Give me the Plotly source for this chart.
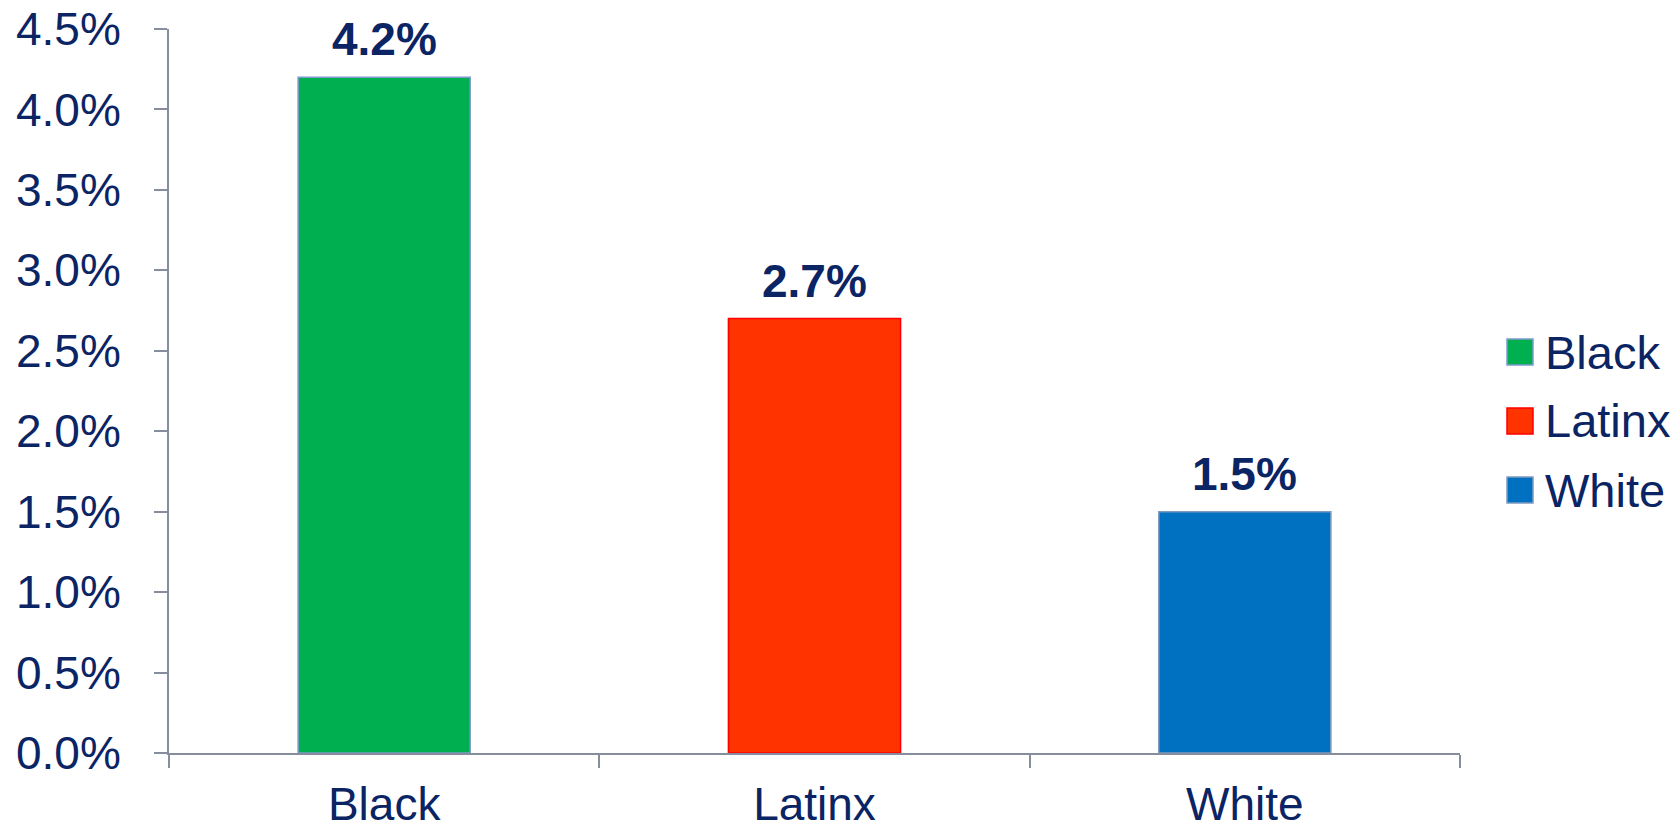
import plotly.graph_objects as go

# Data
groups = ["Black", "Latinx", "White"]
rates = [4.2, 2.7, 1.5]
fill_colors = ["#00B050", "#FF3300", "#0070C0"]
edge_colors = ["#7F9BD0", "#FF0000", "#7F9BC0"]
y_ticks = [0, 0.5, 1.0, 1.5, 2.0, 2.5, 3.0, 3.5, 4.0, 4.5]
y_tick_text = [f"{v:.1f}%" for v in y_ticks]

NAVY = "#0B2464"
AXIS = "#868E9E"
FONT = "Liberation Sans, Arial, sans-serif"

W, H = 1680, 830
ML, MR, MT, MB = 169, 220, 29, 77
plot_w = W - ML - MR
plot_h = H - MT - MB

fig = go.Figure()
fig.add_trace(go.Bar(
    x=groups,
    y=rates,
    width=0.4,
    marker=dict(color=fill_colors, line=dict(color=edge_colors, width=1.5)),
    showlegend=False,
    hoverinfo="x+y",
))

# Value labels above bars
for g, v in zip(groups, rates):
    fig.add_annotation(
        x=g, y=v, xref="x", yref="y",
        text=f"<b>{v:.1f}%</b>",
        showarrow=False, xanchor="center", yanchor="bottom",
        yshift=10,
        font=dict(family=FONT, size=46, color=NAVY),
    )

# Legend drawn as square swatches with labels
def px_to_paper_x(px):
    return (px - ML) / plot_w

def px_to_paper_y(py):
    return (H - MB - py) / plot_h

legend_rows = [352, 421, 490]
for g, fc, ec, row in zip(groups, fill_colors, edge_colors, legend_rows):
    fig.add_shape(
        type="rect", xref="paper", yref="paper",
        x0=px_to_paper_x(1507), x1=px_to_paper_x(1533),
        y0=px_to_paper_y(row + 13), y1=px_to_paper_y(row - 13),
        fillcolor=fc, line=dict(color=ec, width=1.5),
    )
    fig.add_annotation(
        x=px_to_paper_x(1543), y=px_to_paper_y(row), xref="paper", yref="paper",
        text=g, showarrow=False, xanchor="left", yanchor="middle",
        font=dict(family=FONT, size=47, color=NAVY),
    )

fig.update_layout(
    width=W, height=H,
    margin=dict(l=ML, r=MR, t=MT, b=MB, pad=0, autoexpand=False),
    paper_bgcolor="white",
    plot_bgcolor="white",
    font=dict(family=FONT, color=NAVY),
    bargap=0.6,
)

fig.update_xaxes(
    type="category",
    automargin=False,
    showline=True, linecolor=AXIS, linewidth=2,
    ticks="outside", tickson="boundaries", ticklen=13, tickwidth=2, tickcolor=AXIS,
    tickfont=dict(family=FONT, size=46, color=NAVY),
    ticklabelstandoff=10,
    showgrid=False, zeroline=False,
)
fig.update_yaxes(
    range=[0, 4.5],
    automargin=False,
    tickvals=y_ticks, ticktext=y_tick_text,
    showline=True, linecolor=AXIS, linewidth=2,
    ticks="outside", ticklen=13, tickwidth=2, tickcolor=AXIS,
    tickfont=dict(family=FONT, size=46, color=NAVY),
    ticklabelstandoff=24,
    showgrid=False, zeroline=False,
)

fig.write_html("out.html")
